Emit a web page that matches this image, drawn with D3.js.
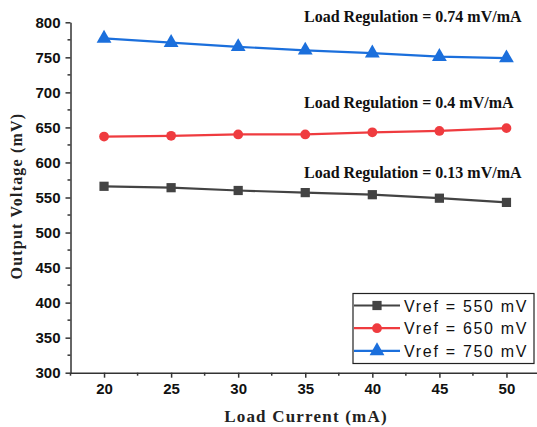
<!DOCTYPE html>
<html>
<head>
<meta charset="utf-8">
<script src="https://cdn.jsdelivr.net/npm/d3@7"></script>
<style>
  body { margin: 0; background: #fff; }
  svg { display: block; }
  .axis text { font-family: "Liberation Sans", Arial, sans-serif; font-weight: bold; font-size: 15px; fill: #111; }
  .axis path, .axis line { stroke: #333; stroke-width: 1.5px; }
</style>
</head>
<body>
<div id="plot"></div>
<script>
// load current (mA)
const current = [20, 25, 30, 35, 40, 45, 50];
// output voltage (mV) per reference
const v550 = [566, 564, 560, 557, 554, 549, 543];
const v650 = [637, 638, 640, 640, 643, 645, 649];
const v750 = [777, 771, 765, 760, 756, 751, 749];

const seriesNames = ['Vref = 550 mV', 'Vref = 650 mV', 'Vref = 750 mV'];
const regLabels = ['Load Regulation = 0.74 mV/mA', 'Load Regulation = 0.4 mV/mA', 'Load Regulation = 0.13 mV/mA'];
const xTicks = [20, 25, 30, 35, 40, 45, 50];
const yTicks = [300, 350, 400, 450, 500, 550, 600, 650, 700, 750, 800];

const width = 537, height = 427;
const margin = {top: 22, right: 0, bottom: 55, left: 70};

const svg = d3.select('#plot').append('svg')
    .attr('width', width)
    .attr('height', height);

let xs = d3.scaleLinear().domain([17.5, 52.5]).range([margin.left + 0.5, 540]);
let ys = d3.scaleLinear().domain([300, 800]).range([height - margin.bottom + 0.7, margin.top + 0.3]);

const colors = ['#434343', '#ef3b3f', '#1b6fdc'];
const symbols = [d3.symbolSquare, d3.symbolCircle, d3.symbolTriangle];
const symSizes = [85, 75, 95];
const series = [v550, v650, v750];

// axes
let xAxis = d3.axisBottom(xs).tickValues(xTicks).tickSize(5).tickSizeOuter(0).tickPadding(6);
let yAxis = d3.axisLeft(ys).tickValues(yTicks).tickSize(5).tickSizeOuter(0).tickPadding(5);

const xMinor = d3.range(17.5, 53, 5);
const yMinor = d3.range(325, 800, 50);

const gx = svg.append('g')
    .attr('class', 'x axis')
    .attr('transform', 'translate(0,' + ys(300) + ')')
    .call(xAxis);
gx.selectAll('.minor').data(xMinor).enter().append('line')
    .attr('x1', d => xs(d)).attr('x2', d => xs(d))
    .attr('y1', 0).attr('y2', 3);

const gy = svg.append('g')
    .attr('class', 'y axis')
    .attr('transform', 'translate(' + xs(17.5) + ',0)')
    .call(yAxis);
gy.selectAll('.minor').data(yMinor).enter().append('line')
    .attr('y1', d => ys(d)).attr('y2', d => ys(d))
    .attr('x1', 0).attr('x2', -3);

// axis titles
svg.append('text')
    .attr('x', 306)
    .attr('y', 422)
    .style('text-anchor', 'middle')
    .style('font-family', '"Liberation Serif", "Times New Roman", serif')
    .style('font-weight', 'bold')
    .style('font-size', '17px')
    .style('letter-spacing', '1.2px')
    .style('fill', '#222')
    .text('Load Current (mA)');

svg.append('text')
    .attr('transform', 'translate(22,' + 196 + ') rotate(-90)')
    .style('text-anchor', 'middle')
    .style('font-family', '"Liberation Serif", "Times New Roman", serif')
    .style('font-weight', 'bold')
    .style('font-size', '16px')
    .style('letter-spacing', '1.2px')
    .style('fill', '#222')
    .text('Output Voltage (mV)');

// lines + markers
const line = d3.line()
    .x((d, i) => xs(current[i]))
    .y(d => ys(d));

series.forEach((vals, k) => {
    svg.append('path')
        .datum(vals)
        .attr('d', line)
        .style('fill', 'none')
        .style('stroke', colors[k])
        .style('stroke-width', '2.2px');

    svg.selectAll('.pt' + k)
        .data(vals)
        .enter()
        .append('path')
        .attr('class', 'pt' + k)
        .attr('d', d3.symbol().type(symbols[k]).size(symSizes[k]))
        .attr('transform', (d, i) => 'translate(' + xs(current[i]) + ',' + ys(d) + ')')
        .style('fill', colors[k]);
});

// load regulation annotations
const regY = [22, 108, 178];
regLabels.forEach((t, i) => {
    svg.append('text')
        .attr('x', 304)
        .attr('y', regY[i])
        .style('font-family', '"Liberation Serif", "Times New Roman", serif')
        .style('font-weight', 'bold')
        .style('font-size', '16px')
        .style('fill', '#111')
        .text(t);
});

// legend
const legend = svg.append('g').attr('transform', 'translate(353,293.5)');
legend.append('rect')
    .attr('width', 181)
    .attr('height', 70)
    .style('fill', '#fff')
    .style('stroke', '#222')
    .style('stroke-width', '1.2px');

seriesNames.forEach((name, k) => {
    const ly = 12 + k * 22.7;
    legend.append('line')
        .attr('x1', 1).attr('x2', 47)
        .attr('y1', ly).attr('y2', ly)
        .style('stroke', colors[k])
        .style('stroke-width', '2.2px');
    legend.append('path')
        .attr('d', d3.symbol().type(symbols[k]).size(symSizes[k]))
        .attr('transform', 'translate(24,' + ly + ')')
        .style('fill', colors[k]);
    legend.append('text')
        .attr('x', 51)
        .attr('y', ly + 6)
        .style('font-family', '"Liberation Sans", Arial, sans-serif')
        .style('font-size', '16px')
        .style('letter-spacing', '1.7px')
        .style('fill', '#111')
        .text(name);
});
</script>
</body>
</html>
